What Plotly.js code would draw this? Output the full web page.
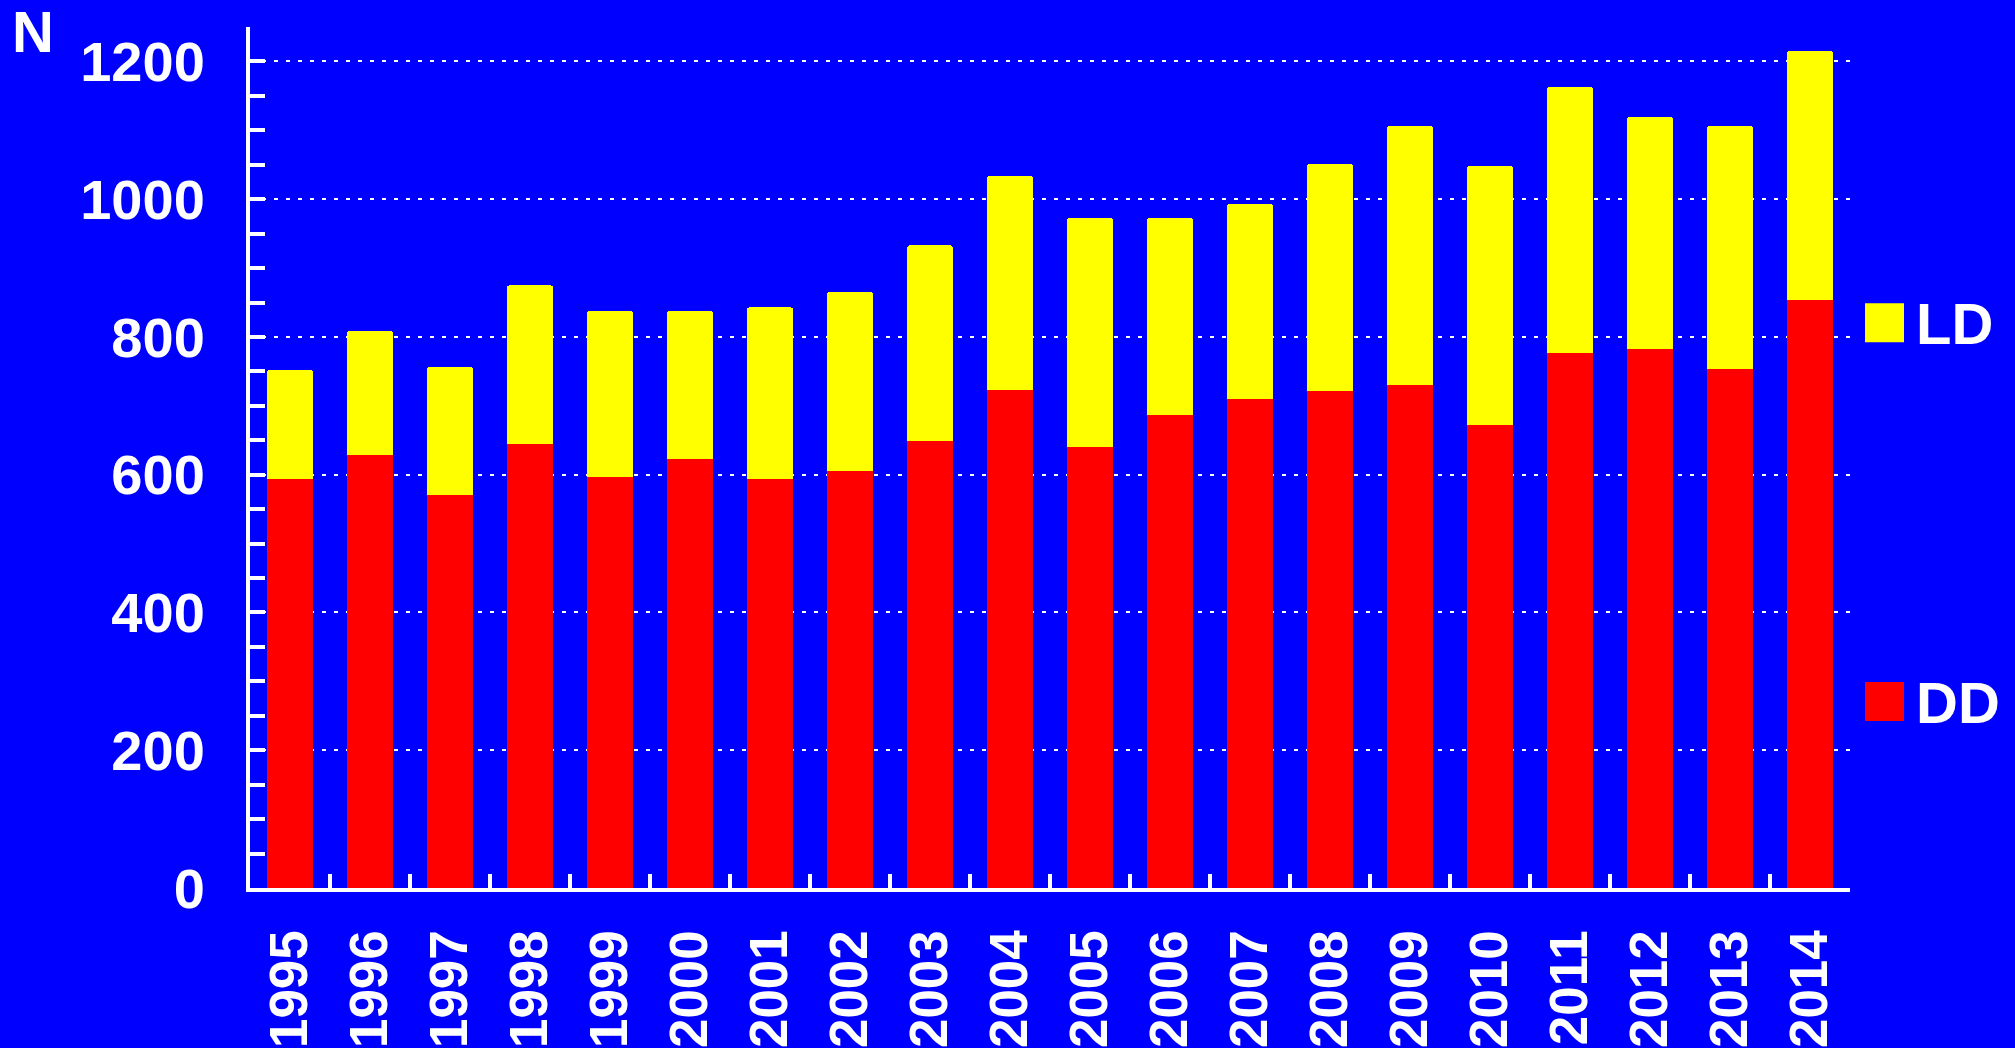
<!DOCTYPE html>
<html>
<head>
<meta charset="utf-8">
<script src="https://cdn.plot.ly/plotly-3.0.1.min.js"></script>
<style>html,body{margin:0;padding:0;background:#0000ff;}#chart{width:2015px;height:1048px;}</style>
</head>
<body>
<div id="chart"></div>
<script>
const years = ["1995","1996","1997","1998","1999","2000","2001","2002","2003","2004","2005","2006","2007","2008","2009","2010","2011","2012","2013","2014"];
const dd = [594,628,571,644,597,623,594,605,649,723,640,686,710,721,730,672,776,782,753,854];
const ld = [158,181,186,231,241,215,249,261,284,311,333,287,283,330,376,376,387,338,353,361];
const seriesNames = ["DD","LD"];
const seriesColors = ["#ff0000","#ffff00"];
const yLabel = "N";

const W = 2015, H = 1048;
const L = 250, R = 165, T = 26.5, B = 160;
const pw = W - L - R, ph = H - T - B;
function px(x){ return (x - L) / pw; }
function py(y){ return (H - B - y) / ph; }

const fontFam = "Liberation Sans, Arial, Helvetica, sans-serif";

const traces = [
  {type:"bar", x:years, y:dd, name:seriesNames[0], marker:{color:seriesColors[0], line:{width:0}}, showlegend:false, hoverinfo:"x+y+name"},
  {type:"bar", x:years, y:ld, name:seriesNames[1], marker:{color:seriesColors[1], line:{width:0}}, showlegend:false, hoverinfo:"x+y+name"}
];

const legendItems = [
  {name: seriesNames[1], color: seriesColors[1], cy: 322.5},
  {name: seriesNames[0], color: seriesColors[0], cy: 701.5}
];

const shapes = legendItems.map(it => ({
  type:"rect", xref:"paper", yref:"paper",
  x0: px(1865), x1: px(1904), y0: py(it.cy + 19.5), y1: py(it.cy - 19.5),
  fillcolor: it.color, line:{width:0}
}));

const annotations = legendItems.map(it => ({
  xref:"paper", yref:"paper", x: px(1914), y: py(it.cy + 1), xanchor:"left", yanchor:"middle",
  text: it.name, showarrow:false,
  font:{family:fontFam, size:58, color:"#ffffff", weight:"bold"}
}));
annotations.push({
  xref:"paper", yref:"paper", x: px(32.5), y: py(31), xanchor:"center", yanchor:"middle",
  text: yLabel, showarrow:false,
  font:{family:fontFam, size:58, color:"#ffffff", weight:"bold"}
});

const layout = {
  width: W, height: H,
  margin: {l:L, r:R, t:T, b:B, pad:0},
  paper_bgcolor: "#0000ff",
  plot_bgcolor: "#0000ff",
  barmode: "stack",
  bargap: 0.425,
  barcornerradius: 3,
  showlegend: false,
  xaxis: {
    type:"category",
    range:[-0.5, 19.5],
    showline:true, linecolor:"#ffffff", linewidth:4,
    ticks:"inside", tickson:"boundaries", ticklen:14, tickwidth:4, tickcolor:"#ffffff",
    tickangle:-90,
    ticklabelstandoff: 17,
    tickfont:{family:fontFam, size:53, color:"#ffffff", weight:"bold"},
    showgrid:false, zeroline:false, fixedrange:true
  },
  yaxis: {
    range:[0,1250],
    dtick:200, tick0:0,
    showline:true, linecolor:"#ffffff", linewidth:4,
    ticks:"inside", ticklen:15, tickwidth:4, tickcolor:"#ffffff",
    minor:{dtick:50, ticks:"inside", ticklen:15, tickwidth:4, tickcolor:"#ffffff", showgrid:false},
    ticklabelstandoff: 30,
    tickfont:{family:fontFam, size:56, color:"#ffffff", weight:"bold"},
    showgrid:true, gridcolor:"#ffffff", gridwidth:2, griddash:"4px,8px",
    zeroline:false, fixedrange:true
  },
  shapes: shapes,
  annotations: annotations
};

Plotly.newPlot("chart", traces, layout, {staticPlot:true, displayModeBar:false});
</script>
</body>
</html>
